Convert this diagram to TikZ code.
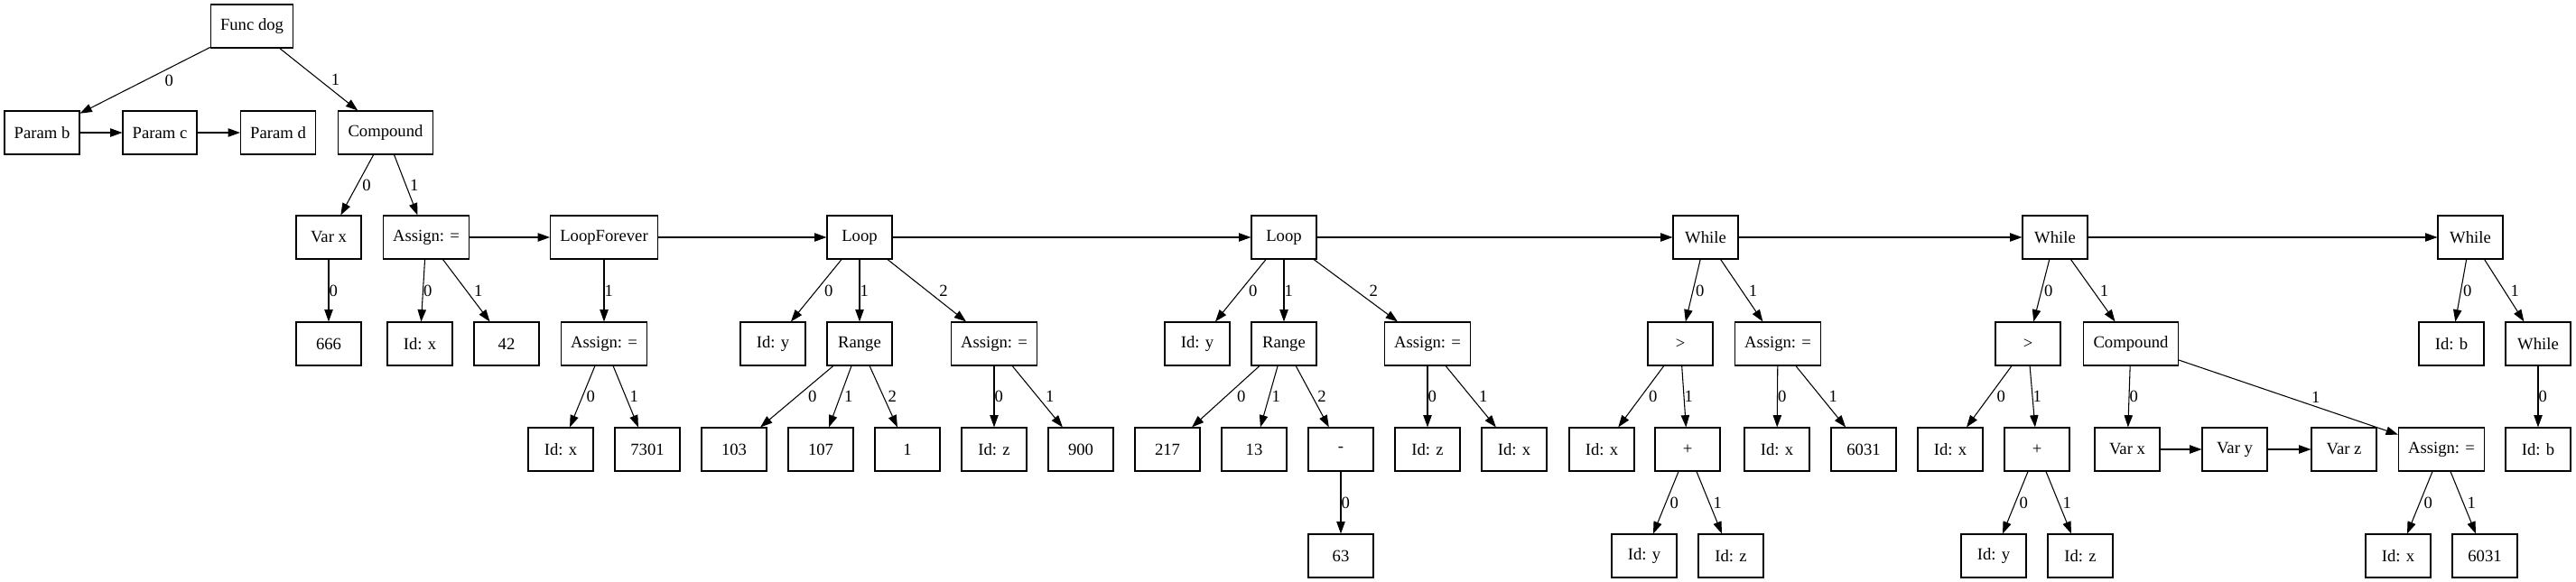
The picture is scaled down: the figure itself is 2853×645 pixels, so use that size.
\documentclass[tikz,border=0pt]{standalone}
\usepackage{fontspec}
\setmainfont{Liberation Serif}
\usetikzlibrary{arrows.meta}

\begin{document}
\begin{tikzpicture}[x=0.75pt, y=-0.75pt, >={Triangle[length=10pt, width=7pt]}, font=\fontsize{14}{16}\selectfont]

		\tikzstyle{ast} = [rectangle, draw, line width=0.8pt, minimum width=54pt, minimum height=36pt, inner xsep=8pt, inner ysep=0pt]
		\tikzstyle{lbl} = [midway, anchor=west, inner sep=0pt]
		\tikzstyle{edge} = [->, line width=0.8pt]

		\useasboundingbox (0,0) rectangle (2853,645);

		% Define nodes
		\node[ast] (fdog) at (279,29) {Func dog};

		\node[ast] (parb) at (46.5,147) {Param b};
		\node[ast] (parc) at (177,147) {Param c};
		\node[ast] (pard) at (308,147) {Param d};
		\node[ast] (comp) at (427,147) {Compound};

		\node[ast] (varx) at (364,263) {Var x};
		\node[ast] (asg1) at (472,263) {Assign: =};
		\node[ast] (lpf) at (669,263) {LoopForever};
		\node[ast] (loop1) at (952,263) {Loop};
		\node[ast] (loop2) at (1422,263) {Loop};
		\node[ast] (wh1) at (1889,263) {While};
		\node[ast] (wh2) at (2276,263) {While};
		\node[ast] (wh3) at (2736,263) {While};

		\node[ast] (n666) at (364,381) {666};
		\node[ast] (idx1) at (465,381) {Id: x};
		\node[ast] (n42) at (561,381) {42};
		\node[ast] (asg2) at (669,381) {Assign: =};
		\node[ast] (idy1) at (856,381) {Id: y};
		\node[ast] (rng1) at (952,381) {Range};
		\node[ast] (asg3) at (1101,381) {Assign: =};
		\node[ast] (idy2) at (1326,381) {Id: y};
		\node[ast] (rng2) at (1422,381) {Range};
		\node[ast] (asg4) at (1581,381) {Assign: =};
		\node[ast] (gt1) at (1861,381) {>};
		\node[ast] (asg5) at (1969,381) {Assign: =};
		\node[ast] (gt2) at (2246,381) {>};
		\node[ast] (comp2) at (2360,381) {Compound};
		\node[ast] (idb1) at (2715,381) {Id: b};
		\node[ast] (wh4) at (2811,381) {While};

		\node[ast] (idx2) at (621,498) {Id: x};
		\node[ast] (n7301) at (717,498) {7301};
		\node[ast] (n103) at (813,498) {103};
		\node[ast] (n107) at (909,498) {107};
		\node[ast] (n1) at (1005,498) {1};
		\node[ast] (idz1) at (1101,498) {Id: z};
		\node[ast] (n900) at (1197,498) {900};
		\node[ast] (n217) at (1293,498) {217};
		\node[ast] (n13) at (1389,498) {13};
		\node[ast] (minus) at (1485,498) {-};
		\node[ast] (idz2) at (1581,498) {Id: z};
		\node[ast] (idx3) at (1677,498) {Id: x};
		\node[ast] (idx4) at (1774,498) {Id: x};
		\node[ast] (plus1) at (1869,498) {+};
		\node[ast] (idx5) at (1968,498) {Id: x};
		\node[ast] (n6031a) at (2064,498) {6031};
		\node[ast] (idx6) at (2160,498) {Id: x};
		\node[ast] (plus2) at (2256,498) {+};
		\node[ast] (varx2) at (2356,498) {Var x};
		\node[ast] (vary) at (2475,498) {Var y};
		\node[ast] (varz) at (2596,498) {Var z};
		\node[ast] (asg6) at (2704,498) {Assign: =};
		\node[ast] (idb2) at (2811,498) {Id: b};

		\node[ast] (n63) at (1485,616) {63};
		\node[ast] (idy3) at (1821,616) {Id: y};
		\node[ast] (idz3) at (1917,616) {Id: z};
		\node[ast] (idy4) at (2208,616) {Id: y};
		\node[ast] (idz4) at (2304,616) {Id: z};
		\node[ast] (idx7) at (2656,616) {Id: x};
		\node[ast] (n6031b) at (2752,616) {6031};

		% Draw arrows
		\draw[edge] (fdog) -- node[lbl, xshift=16pt] {0} (parb);
		\draw[edge] (fdog) -- node[lbl, xshift=10pt] {1} (comp);
		\draw[edge] (parb) -- (parc);
		\draw[edge] (parc) -- (pard);

		\draw[edge] (comp) -- node[lbl, xshift=4pt] {0} (varx);
		\draw[edge] (comp) -- node[lbl, xshift=3pt] {1} (asg1);
		\draw[edge] (asg1) -- (lpf);
		\draw[edge] (lpf) -- (loop1);
		\draw[edge] (loop1) -- (loop2);
		\draw[edge] (loop2) -- (wh1);
		\draw[edge] (wh1) -- (wh2);
		\draw[edge] (wh2) -- (wh3);

		\draw[edge] (varx) -- node[lbl] {0} (n666);
		\draw[edge] (asg1) -- node[lbl] {0} (idx1);
		\draw[edge] (asg1) -- node[lbl, xshift=6pt] {1} (n42);
		\draw[edge] (lpf) -- node[lbl] {1} (asg2);
		\draw[edge] (asg2) -- node[lbl, xshift=3pt] {0} (idx2);
		\draw[edge] (asg2) -- node[lbl, xshift=3pt] {1} (n7301);

		\draw[edge] (loop1) -- node[lbl, xshift=6.5pt] {0} (idy1);
		\draw[edge] (loop1) -- node[lbl] {1} (rng1);
		\draw[edge] (loop1) -- node[lbl, xshift=10pt] {2} (asg3);
		\draw[edge] (rng1) -- node[lbl, xshift=9pt] {0} (n103);
		\draw[edge] (rng1) -- node[lbl, xshift=3pt] {1} (n107);
		\draw[edge] (rng1) -- node[lbl, xshift=3.5pt] {2} (n1);
		\draw[edge] (asg3) -- node[lbl] {0} (idz1);
		\draw[edge] (asg3) -- node[lbl, xshift=6.5pt] {1} (n900);

		\draw[edge] (loop2) -- node[lbl, xshift=6.5pt] {0} (idy2);
		\draw[edge] (loop2) -- node[lbl] {1} (rng2);
		\draw[edge] (loop2) -- node[lbl, xshift=11pt] {2} (asg4);
		\draw[edge] (rng2) -- node[lbl, xshift=9pt] {0} (n217);
		\draw[edge] (rng2) -- node[lbl, xshift=2pt] {1} (n13);
		\draw[edge] (rng2) -- node[lbl, xshift=4pt] {2} (minus);
		\draw[edge] (minus) -- node[lbl] {0} (n63);
		\draw[edge] (asg4) -- node[lbl] {0} (idz2);
		\draw[edge] (asg4) -- node[lbl, xshift=6.5pt] {1} (idx3);

		\draw[edge] (wh1) -- node[lbl, xshift=2pt] {0} (gt1);
		\draw[edge] (wh1) -- node[lbl, xshift=5.5pt] {1} (asg5);
		\draw[edge] (gt1) -- node[lbl, xshift=6pt] {0} (idx4);
		\draw[edge] (gt1) -- node[lbl] {1} (plus1);
		\draw[edge] (plus1) -- node[lbl, xshift=3pt] {0} (idy3);
		\draw[edge] (plus1) -- node[lbl, xshift=3pt] {1} (idz3);
		\draw[edge] (asg5) -- node[lbl] {0} (idx5);
		\draw[edge] (asg5) -- node[lbl, xshift=6.5pt] {1} (n6031a);

		\draw[edge] (wh2) -- node[lbl, xshift=2pt] {0} (gt2);
		\draw[edge] (wh2) -- node[lbl, xshift=5.5pt] {1} (comp2);
		\draw[edge] (gt2) -- node[lbl, xshift=6pt] {0} (idx6);
		\draw[edge] (gt2) -- node[lbl] {1} (plus2);
		\draw[edge] (plus2) -- node[lbl, xshift=3pt] {0} (idy4);
		\draw[edge] (plus2) -- node[lbl, xshift=3pt] {1} (idz4);
		\draw[edge] (comp2) -- node[lbl] {0} (varx2);
		\draw[edge] (comp2) -- node[lbl, xshift=19pt] {1} (asg6);
		\draw[edge] (varx2) -- (vary);
		\draw[edge] (vary) -- (varz);
		\draw[edge] (asg6) -- node[lbl, xshift=3pt] {0} (idx7);
		\draw[edge] (asg6) -- node[lbl, xshift=3pt] {1} (n6031b);

		\draw[edge] (wh3) -- node[lbl, xshift=1.5pt] {0} (idb1);
		\draw[edge] (wh3) -- node[lbl, xshift=5pt] {1} (wh4);
		\draw[edge] (wh4) -- node[lbl] {0} (idb2);

\end{tikzpicture}
\end{document}
